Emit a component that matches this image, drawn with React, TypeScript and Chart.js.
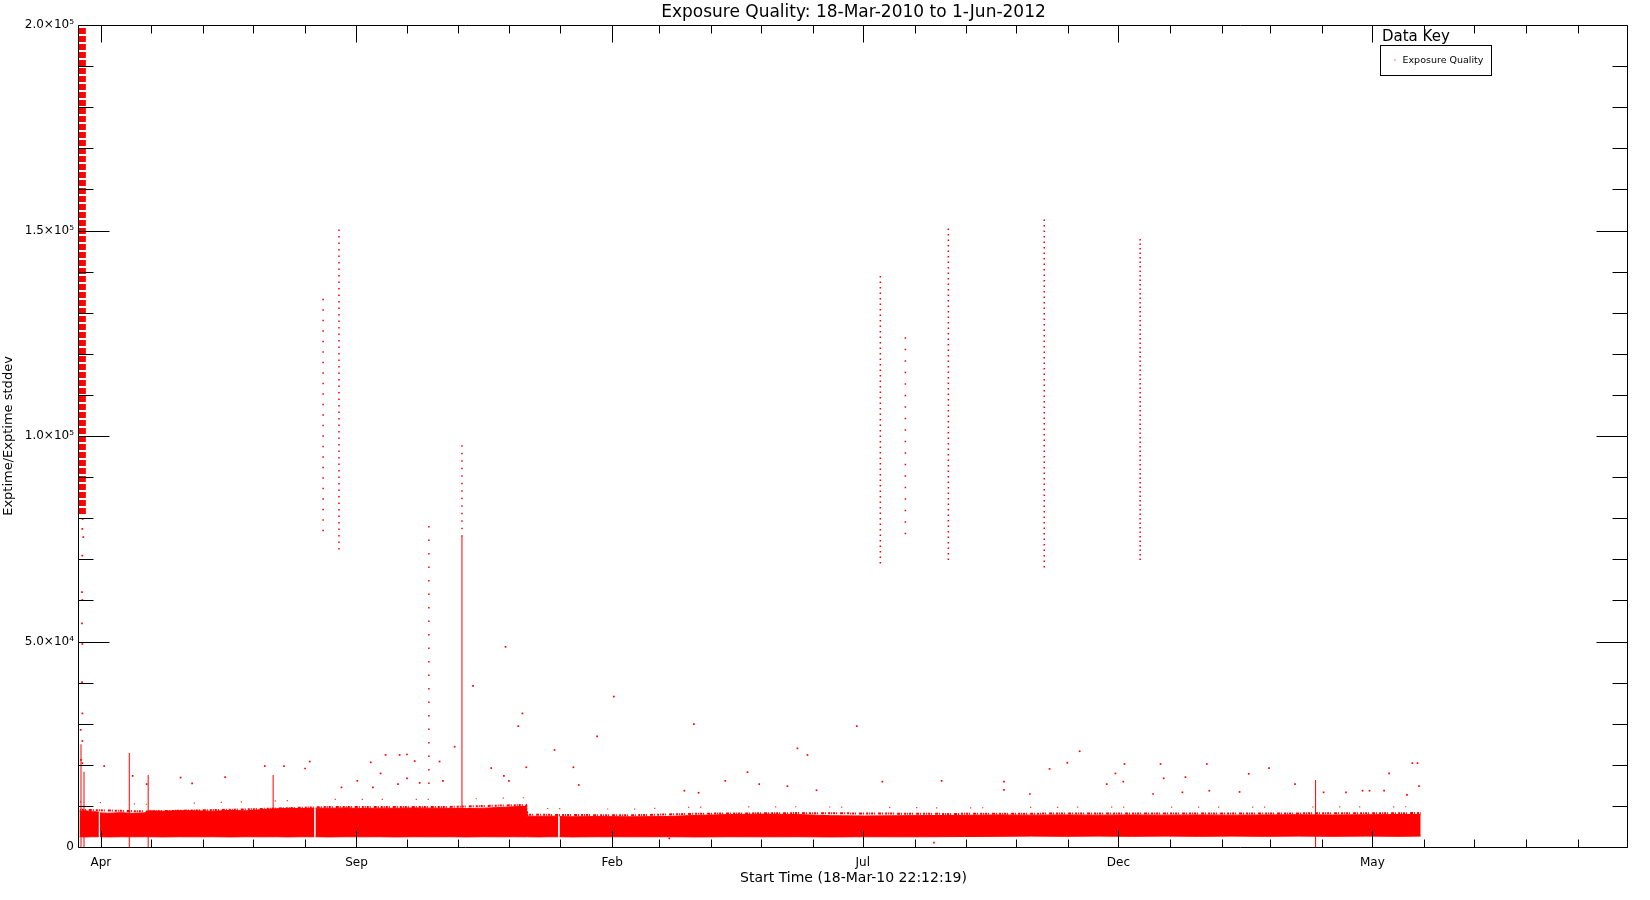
import React, { useEffect, useRef } from 'react';
import { Chart, registerables } from 'chart.js';

Chart.register(...registerables);

// ---------- text ----------
const titleText = 'Exposure Quality: 18-Mar-2010 to 1-Jun-2012';
const xTitleText = 'Start Time (18-Mar-10 22:12:19)';
const yTitleText = 'Exptime/Exptime stddev';
const legendTitle = 'Data Key';
const seriesName = 'Exposure Quality';

// ---------- time axis (days since start time) ----------
const START_UTC = Date.UTC(2010, 2, 18, 22, 12, 19);
const END_UTC = Date.UTC(2012, 9, 1);
const DAY_MS = 86400000;
const xMax = (END_UTC - START_UTC) / DAY_MS;

// month ticks Apr-2010 .. Sep-2012 (year, monthIndex)
const tickMonthsFirst = [2010, 3];
const tickMonthCount = 30;
const majorTickLabels = ['Apr', 'Sep', 'Feb', 'Jul', 'Dec', 'May'];
const majorEvery = 5;

// ---------- y axis ----------
const yTickValues = [0, 50000, 100000, 150000, 200000];
const yTickLabels = ['0', '5.0\u00d710\u2074', '1.0\u00d710\u2075', '1.5\u00d710\u2075', '2.0\u00d710\u2075'];

// ---------- data (x in days since 18-Mar-10 22:12:19) ----------
// dense band of exposures: upper / lower envelope (null = data gap)
const bandDays = [0.3, 4, 8, 11.9, 12.2, 12.5, 18, 25, 32, 39, 42, 50, 60, 70, 80, 90, 100, 110, 118, 125, 133, 140.8, 141.1, 141.5, 150, 160, 170, 180, 190, 200, 210, 222, 232, 242, 252, 260, 267.6, 268.4, 275, 282, 286.8, 287.2, 287.6, 295, 310, 330, 350, 371, 390, 410, 430, 450, 470, 490, 510, 530, 550, 570, 590, 610, 630, 650, 670, 690, 710, 730, 750, 770, 790, 803];
const bandTop = [8700, 8800, 8600, 8500, null, 8300, 8200, 8350, 8200, 8300, 8800, 8700, 8850, 8800, 8700, 8900, 8800, 9100, 9300, 9400, 9350, 9400, null, 9450, 9400, 9500, 9350, 9450, 9400, 9500, 9450, 9400, 9350, 9450, 9600, 9800, 9900, 7500, 7450, 7500, 7450, null, 7400, 7350, 7400, 7350, 7400, 7700, 7900, 8000, 7900, 7600, 7550, 7600, 7650, 7700, 7800, 7750, 7800, 7750, 7800, 7750, 7800, 7750, 7800, 7850, 7800, 7850, 7900, 7900];
const bandBottom = [2500, 2450, 2500, 2500, null, 2500, 2450, 2500, 2480, 2500, 2500, 2450, 2500, 2480, 2500, 2450, 2500, 2480, 2500, 2450, 2500, 2480, null, 2500, 2450, 2500, 2480, 2500, 2450, 2500, 2480, 2500, 2450, 2500, 2480, 2500, 2480, 2500, 2450, 2500, 2480, null, 2500, 2450, 2500, 2480, 2500, 2450, 2500, 2480, 2500, 2450, 2500, 2480, 2500, 2550, 2600, 2650, 2600, 2650, 2600, 2650, 2600, 2650, 2600, 2650, 2600, 2650, 2600, 2650];

// scattered fringe just above the band (dense inner / sparse outer level)
const fringeDays = [0.5, 40, 100, 150, 222, 267.6, 268.4, 330, 371, 430, 520, 600, 700, 803];
const fringeInner = [9050, 8650, 9150, 9750, 9750, 10250, 7850, 7700, 8100, 8250, 8050, 8150, 8150, 8250];
const fringeOuter = [11000, 10400, 11000, 11600, 11600, 12000, 9400, 9200, 9700, 9800, 9500, 9700, 9700, 9800];

// saturated column of the first days
const columnDay = 2.0;
const columnLow = 81000;
const columnHigh = 200000;

// sparse values under the first-days column
const earlyDays = [2.2, 2.0, 2.6, 2.0, 1.8, 2.0, 1.8, 2.0, 1.8, 2.0, 1.0, 2.0, 1.2, 2.0];
const earlyVals = [79800, 77400, 75400, 70900, 62000, 60100, 54400, 49400, 40100, 32500, 28500, 25800, 21200, 20400];

// dotted vertical bursts
const spikeDays = [146.1, 155.6, 209.4, 229.2, 479.6, 494.6, 520.3, 577.7, 635.1];
const spikeLow = [76800, 72400, 15300, 75500, 69000, 76100, 69800, 68000, 69800];
const spikeHigh = [135300, 150900, 79000, 97800, 139800, 124000, 150700, 153000, 148100];
const spikeDashGap = [9, 5, 12, 6, 4, 10, 4, 4, 3];

// solid streaks
const streakDays = [1.2, 3.0, 30.1, 41.4, 116.2, 229.2, 740.1];
const streakLow = [0, 0, 0, 0, 2500, 9000, 0];
const streakHigh = [25000, 18300, 22900, 17500, 17500, 75500, 16300];

// isolated outliers
const outlierDays = [15.1, 32.1, 40.5, 60.8, 67.7, 87.5, 111.2, 122.7, 135.3, 138.1, 174.6, 183.5, 191.9, 196.3, 200.9, 180.5, 166.6, 175.9, 190.9, 196.3, 215.8, 217.8, 157.1, 203.9,
  224.8, 284.6, 246.7, 254.3, 267.7, 257.3, 295.9, 299.1, 400.1, 430.0, 436.0, 386.8, 407.1, 480.8, 516.3, 362.3, 370.8, 424.0, 441.4, 353.3, 511.7,
  255.3, 235.8, 320.1, 265.4, 262.9, 368.0, 465.5, 310.1, 598.9,
  798.0, 801.1, 802.0, 591.5, 625.7, 647.3, 675.0, 580.9, 620.3, 700.1, 784.1, 712.2, 649.2, 662.2, 553.6, 625.0, 615.1, 727.8, 781.1, 768.2, 772.4, 758.3, 744.9, 676.5, 694.6, 660.4, 642.8, 569.1, 553.6, 794.8];
const outlierVals = [19700, 17300, 15300, 16900, 15500, 17000, 19700, 19700, 19100, 20800, 20600, 22400, 22400, 22500, 20900, 17900, 16100, 14500, 15300, 16700, 20800, 16100, 14500, 15600,
  24400, 23600, 19200, 17300, 19400, 16100, 19400, 15100, 18200, 24000, 22400, 16100, 15300, 15900, 16100, 13700, 13200, 14800, 13800, 2100, 1050,
  48700, 39200, 36600, 32500, 29400, 29900, 29400, 26900, 23300,
  20400, 20400, 14800, 20500, 20200, 20200, 20200, 19000, 17900, 17800, 17900, 19200, 16700, 17000, 15900, 15900, 15300, 15300, 13700, 13700, 13700, 13300, 13300, 13700, 13400, 13300, 12900, 12900, 13900, 12700];

// ---------- style ----------
const RED = '#ff0000';
const FONT = "'DejaVu Sans', sans-serif";

const zip = (xs: number[], ys: (number | null)[]) => xs.map((x, i) => ({ x, y: ys[i] }));

const monthTicks = (() => {
  const out: { value: number; label: string }[] = [];
  for (let i = 0; i < tickMonthCount; i++) {
    const y = tickMonthsFirst[0] + Math.floor((tickMonthsFirst[1] + i) / 12);
    const m = (tickMonthsFirst[1] + i) % 12;
    const v = (Date.UTC(y, m, 1) - START_UTC) / DAY_MS;
    const label = i % majorEvery === 0 ? majorTickLabels[i / majorEvery] || '' : '';
    out.push({ value: v, label });
  }
  return out;
})();

const idlFrame = {
  id: 'idlFrame',
  afterDatasetsDraw(chart: any) {
    const { ctx, chartArea } = chart;
    const xs = chart.scales.x;
    const ys = chart.scales.y;
    const L = Math.round(chartArea.left) - 0.5;
    const R = Math.round(chartArea.right) - 0.5;
    const T = Math.round(chartArea.top) + 0.5;
    const B = Math.round(chartArea.bottom) + 0.5;
    ctx.save();
    ctx.strokeStyle = '#000';
    ctx.lineWidth = 1;
    ctx.beginPath();
    ctx.rect(L, T, R - L, B - T);
    for (const t of ys.ticks) {
      const py = Math.round(ys.getPixelForValue(t.value)) + 0.5;
      const len = yTickValues.includes(t.value) ? 31 : 15;
      ctx.moveTo(L, py); ctx.lineTo(L + len, py);
      ctx.moveTo(R, py); ctx.lineTo(R - len, py);
    }
    for (const t of xs.ticks) {
      const px = Math.round(xs.getPixelForValue(t.value)) + 0.5;
      const mt = monthTicks.find((m) => Math.abs(m.value - t.value) < 1e-6);
      const len = mt && mt.label ? 17 : 8;
      ctx.moveTo(px, T); ctx.lineTo(px, T + len);
      ctx.moveTo(px, B); ctx.lineTo(px, B - len);
    }
    ctx.stroke();
    ctx.restore();
  },
  afterDraw(chart: any) {
    const { ctx, chartArea } = chart;
    const bx = Math.round(chartArea.right) - 248 + 0.5;
    const by = Math.round(chartArea.top) + 20 + 0.5;
    ctx.save();
    ctx.fillStyle = '#000';
    ctx.font = `15px ${FONT}`;
    ctx.textBaseline = 'alphabetic';
    ctx.textAlign = 'left';
    ctx.fillText(legendTitle, bx + 1.5, by - 5);
    ctx.strokeStyle = '#000';
    ctx.lineWidth = 1;
    ctx.strokeRect(bx, by, 111, 30);
    ctx.fillStyle = RED;
    ctx.fillRect(bx + 14, by + 14, 1, 1);
    ctx.fillStyle = '#000';
    ctx.font = `9.5px ${FONT}`;
    ctx.textBaseline = 'middle';
    ctx.fillText(seriesName, bx + 22, by + 15);
    ctx.restore();
  },
};

export default function App() {
  const ref = useRef<HTMLCanvasElement | null>(null);

  useEffect(() => {
    if (!ref.current) return;
    const lineDs = (data: any[], width: number, dash: number[]) => ({
      data,
      showLine: true,
      borderColor: RED,
      borderWidth: width,
      borderDash: dash,
      pointRadius: 0,
      fill: false,
      clip: 0,
    });

    const datasets: any[] = [
      {
        label: seriesName,
        data: zip(bandDays, bandTop),
        showLine: true,
        spanGaps: false,
        borderColor: RED,
        borderWidth: 1,
        backgroundColor: RED,
        pointRadius: 0,
        fill: '+1',
        clip: 0,
      },
      {
        label: 'band-low',
        data: zip(bandDays, bandBottom),
        showLine: true,
        spanGaps: false,
        borderColor: RED,
        borderWidth: 1,
        pointRadius: 0,
        fill: false,
        clip: 0,
      },
      lineDs(zip(fringeDays, fringeInner), 2, [1, 1, 2, 1, 1, 3, 3, 1, 1, 2, 2, 1]),
      lineDs(zip(fringeDays, fringeOuter), 1.2, [1, 19, 1, 33, 1, 11, 1, 47, 1, 26]),
      lineDs([{ x: columnDay, y: columnLow }, { x: columnDay, y: columnHigh }], 7, [6, 2]),
      ...spikeDays.map((d, i) =>
        lineDs([{ x: d, y: spikeLow[i] }, { x: d, y: spikeHigh[i] }], 1.5, [1.5, spikeDashGap[i]])
      ),
      ...streakDays.map((d, i) => lineDs([{ x: d, y: streakLow[i] }, { x: d, y: streakHigh[i] }], 1, [])),
      {
        data: zip(earlyDays, earlyVals),
        pointRadius: 1.2,
        pointStyle: 'rect',
        backgroundColor: RED,
        borderWidth: 0,
        clip: 0,
      },
      {
        data: zip(outlierDays, outlierVals),
        pointRadius: 1.2,
        pointStyle: 'rect',
        backgroundColor: RED,
        borderWidth: 0,
        clip: 0,
      },
    ];

    const chart = new Chart(ref.current, {
      type: 'scatter',
      data: { datasets },
      plugins: [idlFrame],
      options: {
        responsive: false,
        animation: false,
        devicePixelRatio: 1,
        layout: { padding: { left: 0, right: 22, top: 0, bottom: 0 } },
        plugins: {
          legend: { display: false },
          tooltip: { enabled: false },
          title: {
            display: true,
            fullSize: false,
            text: titleText,
            color: '#000',
            font: { family: FONT, size: 17, weight: 'normal', lineHeight: 1.2 },
            padding: { top: 2, bottom: 2.6 },
          },
        },
        scales: {
          x: {
            type: 'linear',
            position: 'bottom',
            min: 0,
            max: xMax,
            afterBuildTicks: (s: any) => {
              s.ticks = monthTicks.map((m) => ({ value: m.value }));
            },
            afterFit: (s: any) => {
              s.height = 53;
            },
            grid: { display: false, drawTicks: false },
            border: { display: false },
            ticks: {
              autoSkip: false,
              maxRotation: 0,
              minRotation: 0,
              padding: 9,
              color: '#000',
              font: { family: FONT, size: 12 },
              callback: (v: any) => {
                const mt = monthTicks.find((m) => Math.abs(m.value - Number(v)) < 1e-6);
                return mt ? mt.label : '';
              },
            },
            title: {
              display: true,
              text: xTitleText,
              color: '#000',
              font: { family: FONT, size: 14 },
              padding: { top: 0, bottom: 13 },
            },
          },
          y: {
            type: 'linear',
            min: 0,
            max: 200000,
            afterFit: (s: any) => {
              s.width = 79;
            },
            grid: { display: false, drawTicks: false },
            border: { display: false },
            ticks: {
              stepSize: 10000,
              autoSkip: false,
              padding: 5,
              color: '#000',
              font: { family: FONT, size: 12 },
              callback: (v: any) => {
                const i = yTickValues.indexOf(Number(v));
                return i >= 0 ? yTickLabels[i] : '';
              },
            },
            title: {
              display: true,
              text: yTitleText,
              color: '#000',
              font: { family: FONT, size: 13 },
              padding: { top: 1, bottom: 0 },
            },
          },
        },
      } as any,
    });
    return () => chart.destroy();
  }, []);

  return (
    <div style={{ position: 'absolute', left: 0, top: 0, width: 1650, height: 900, background: '#fff' }}>
      <canvas ref={ref} width={1650} height={900} style={{ width: 1650, height: 900, display: 'block' }} />
    </div>
  );
}
